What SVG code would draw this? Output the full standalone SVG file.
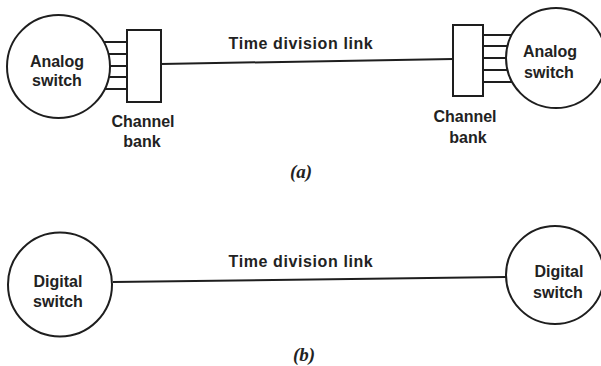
<svg xmlns="http://www.w3.org/2000/svg" width="601" height="366" viewBox="0 0 601 366">
<style>
.s{fill:none;stroke:#1e1e1e;stroke-width:2}
.b{fill:#fff;stroke:#1e1e1e;stroke-width:2}
.t{font-family:"Liberation Sans",Arial,sans-serif;font-weight:bold;font-size:16px;fill:#222;text-anchor:middle}
.c{font-family:"Liberation Serif","Times New Roman",serif;font-style:italic;font-weight:bold;font-size:19px;fill:#222;text-anchor:middle}
</style>
<rect width="601" height="366" fill="#fff"/>
<g id="connectors">
<line class="s" x1="161" y1="64" x2="453" y2="59"/>
<line class="s" x1="113" y1="282" x2="506" y2="277"/>
<g id="stubs-left">
<line class="s" x1="103.8" y1="42" x2="127" y2="42"/>
<line class="s" x1="108.5" y1="54" x2="127" y2="54"/>
<line class="s" x1="110" y1="66" x2="127" y2="66"/>
<line class="s" x1="108.9" y1="77" x2="127" y2="77"/>
<line class="s" x1="104.8" y1="89" x2="127" y2="89"/>
</g>
<g id="stubs-right">
<line class="s" x1="483" y1="35" x2="511.6" y2="35"/>
<line class="s" x1="483" y1="46" x2="507.5" y2="46"/>
<line class="s" x1="483" y1="58" x2="506" y2="58"/>
<line class="s" x1="483" y1="70" x2="507.5" y2="70"/>
<line class="s" x1="483" y1="82" x2="512.1" y2="82"/>
</g>
<text class="t" x="301" y="49" letter-spacing="0.6">Time division link</text>
<text class="t" x="301" y="267" letter-spacing="0.6">Time division link</text>
</g>
<g id="analog-switch-left">
<circle class="b" cx="58.5" cy="66.5" r="51.5"/>
<text class="t" x="57" y="67">Analog</text>
<text class="t" x="57" y="86">switch</text>
</g>
<g id="channel-bank-left">
<rect class="b" x="127" y="30" width="34" height="72"/>
<text class="t" x="143" y="127">Channel</text>
<text class="t" x="142" y="147">bank</text>
</g>
<g id="channel-bank-right">
<rect class="b" x="453" y="25" width="30" height="71"/>
<text class="t" x="465" y="122">Channel</text>
<text class="t" x="468" y="143">bank</text>
</g>
<g id="analog-switch-right">
<circle class="b" cx="556" cy="58" r="50"/>
<text class="t" x="550" y="57">Analog</text>
<text class="t" x="549" y="78">switch</text>
</g>
<g id="digital-switch-left">
<circle class="b" cx="60" cy="284.5" r="52"/>
<text class="t" x="58" y="287">Digital</text>
<text class="t" x="58" y="307">switch</text>
</g>
<g id="digital-switch-right">
<circle class="b" cx="555" cy="275" r="49"/>
<text class="t" x="559" y="277">Digital</text>
<text class="t" x="558" y="298">switch</text>
</g>
<text class="c" x="301" y="178">(a)</text>
<text class="c" x="304" y="361">(b)</text>
</svg>
